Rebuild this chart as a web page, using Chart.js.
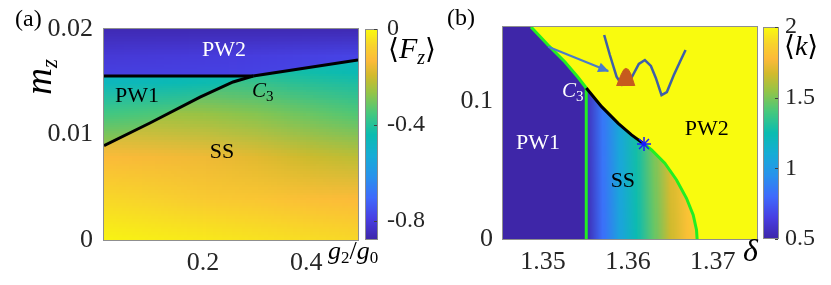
<!DOCTYPE html>
<html>
<head>
<meta charset="utf-8">
<script src="https://cdn.jsdelivr.net/npm/chart.js@4.4.1/dist/chart.umd.min.js"></script>
<style>
    html, body { margin: 0; padding: 0; background: #fff; }
    #wrap { position: relative; width: 831px; height: 285px; overflow: hidden; }
    #wrap canvas { position: absolute; top: 0; }
    #chartA { left: 0; }
    #chartB { left: 415px; }
</style>
</head>
<body>
<div id="wrap">
    <canvas id="chartA" width="440" height="285"></canvas>
    <canvas id="chartB" width="416" height="285"></canvas>
</div>
<script>
// ---------- panel (a): <F_z> vs g2/g0 and m_z ----------
var aXTicks = [0.2, 0.4];
var aXLabels = ['0.2', '0.4'];
var aYTicks = [0, 0.01, 0.02];
var aYLabels = ['0', '0.01', '0.02'];
var aCbTicks = [-0.8, -0.4, 0];
var aCbLabels = ['-0.8', '-0.4', '0'];
var aCbMin = -0.88;

// SS field (rows bottom -> top)
var aSsG = [0, 0.1, 0.2, 0.3, 0.4, 0.5];
var aSsMz = [0, 0.004, 0.008, 0.012, 0.016, 0.02];
var aSsFz = [
    [-0.01, -0.02, -0.03, -0.04, -0.05, -0.06],
    [-0.06, -0.07, -0.09, -0.10, -0.12, -0.13],
    [-0.13, -0.14, -0.15, -0.17, -0.20, -0.22],
    [-0.24, -0.25, -0.26, -0.28, -0.31, -0.34],
    [-0.38, -0.39, -0.40, -0.41, -0.43, -0.45],
    [-0.48, -0.48, -0.49, -0.50, -0.51, -0.52],
];
// PW1 field
var aPw1G = [0, 0.15, 0.3];
var aPw1Mz = [0.009, 0.012, 0.015, 0.018];
var aPw1Fz = [
    [-0.26, -0.25, -0.24],
    [-0.36, -0.34, -0.32],
    [-0.47, -0.45, -0.43],
    [-0.50, -0.50, -0.50],
];
// PW2 field
var aPw2G = [0, 0.25, 0.5];
var aPw2Mz = [0.015, 0.0175, 0.02];
var aPw2Fz = [
    [-0.78, -0.78, -0.77],
    [-0.81, -0.80, -0.78],
    [-0.86, -0.86, -0.86],
];
// phase boundaries
var aTopG = [0.008, 0.297];
var aTopMz = [0.01555, 0.01555];
var aDiagG = [0.008, 0.097, 0.194, 0.258, 0.297];
var aDiagMz = [0.00895, 0.01109, 0.01355, 0.01498, 0.01555];
var aRightG = [0.297, 0.5];
var aRightMz = [0.01555, 0.01706];

var aLabels = [
    { text: 'PW2', x: 0.2404, y: 0.01801, color: '#ffffff' },
    { text: 'PW1', x: 0.0719, y: 0.01365, color: '#000000' },
    { text: 'SS', x: 0.2366, y: 0.00834, color: '#000000' },
];
var aC3 = { x: 0.2947, y: 0.01355 };

// ---------- panel (b): <k> vs delta and m_z ----------
var bXTicks = [1.35, 1.36, 1.37];
var bXLabels = ['1.35', '1.36', '1.37'];
var bYTicks = [0, 0.1];
var bYLabels = ['0', '0.1'];
var bCbTicks = [0.5, 1, 1.5, 2];
var bCbLabels = ['0.5', '1', '1.5', '2'];

var bPw1K = 0.5;
var bPw2K = 2;
var bSsD = [1.355, 1.357, 1.359, 1.361, 1.363, 1.365, 1.367, 1.369];
var bSsMz = [0, 0.06, 0.12];
var bSsK = [
    [0.52, 0.82, 1.05, 1.24, 1.45, 1.66, 1.80, 1.90],
    [0.54, 0.84, 1.07, 1.27, 1.49, 1.70, 1.83, 1.90],
    [0.56, 0.86, 1.09, 1.30, 1.52, 1.72, 1.85, 1.92],
];

var bUpperD = [1.3486, 1.3506, 1.3526, 1.3541, 1.3551];
var bUpperMz = [0.1536, 0.1406, 0.1283, 0.1174, 0.1094];
var bVertD = [1.3551, 1.3551];
var bVertMz = [0, 0.1094];
var bBlackD = [1.3551, 1.35691, 1.35886, 1.36043, 1.3619];
var bBlackMz = [0.1094, 0.0959, 0.0838, 0.0754, 0.0688];
var bLowerD = [1.3619, 1.36279, 1.36435, 1.36573, 1.3669, 1.36769, 1.36808, 1.36815];
var bLowerMz = [0.0688, 0.0645, 0.0549, 0.0428, 0.0295, 0.0174, 0.0065, 0];
var bStarD = [1.3619];
var bStarMz = [0.0688];

// inset: double-well sketch, particle bump and arrow
var bWellD = [1.35721, 1.35788, 1.35867, 1.35929, 1.36000, 1.36059, 1.36129, 1.36200,
    1.36271, 1.36329, 1.36396, 1.36459, 1.36541, 1.36612, 1.36679];
var bWellMz = [0.1478, 0.1333, 0.1176, 0.1116, 0.1123, 0.1188, 0.1268, 0.1297,
    0.1254, 0.1167, 0.1043, 0.1065, 0.1188, 0.1283, 0.1370];
var bBumpD = [1.35867, 1.35894, 1.35924, 1.35953, 1.35976, 1.36006, 1.36035, 1.36059, 1.36082];
var bBumpMz = [0.1109, 0.1152, 0.1196, 0.1228, 0.1236, 0.1228, 0.1196, 0.1152, 0.1109];
var bBumpBase = 0.1109;
var bArrowD = [1.35062, 1.35768];
var bArrowMz = [0.1393, 0.1217];

var bLabels = [
    { text: 'PW1', x: 1.34941, y: 0.0696, color: '#ffffff' },
    { text: 'SS', x: 1.35941, y: 0.0420, color: '#000000' },
    { text: 'PW2', x: 1.36929, y: 0.0797, color: '#000000' },
];
var bC3 = { x: 1.35224, y: 0.1029 };

// ---------- helpers ----------
var SERIF = '"Liberation Serif", "DejaVu Serif", serif';
var parulaStops = [
    [0.00, 62, 38, 168],
    [0.10, 72, 62, 226],
    [0.20, 63, 106, 252],
    [0.30, 40, 146, 236],
    [0.40, 22, 172, 214],
    [0.50, 10, 188, 176],
    [0.60, 70, 200, 125],
    [0.70, 150, 196, 70],
    [0.78, 210, 186, 44],
    [0.85, 252, 186, 58],
    [0.92, 248, 210, 45],
    [1.00, 249, 251, 14],
];

function parula(t) {
    t = Math.max(0, Math.min(1, t));
    for (var i = 1; i < parulaStops.length; i++) {
        var a = parulaStops[i - 1], b = parulaStops[i];
        if (t <= b[0]) {
            var f = (t - a[0]) / (b[0] - a[0]);
            return [0, 1, 2].map(function (k) {
                return Math.round(a[k + 1] + f * (b[k + 1] - a[k + 1]));
            });
        }
    }
    return parulaStops[parulaStops.length - 1].slice(1);
}
function parulaCss(t) {
    var c = parula(t);
    return 'rgb(' + c[0] + ',' + c[1] + ',' + c[2] + ')';
}

function zip(xs, ys) {
    return xs.map(function (x, i) { return [x, ys[i]]; });
}
function pts(xs, ys) {
    return xs.map(function (x, i) { return { x: x, y: ys[i] }; });
}

function clipTo(chart, poly) {
    var ctx = chart.ctx, a = chart.chartArea;
    var xs = chart.scales.x, ys = chart.scales.y;
    ctx.beginPath();
    ctx.rect(a.left, a.top, a.right - a.left, a.bottom - a.top);
    ctx.clip();
    if (poly) {
        ctx.beginPath();
        poly.forEach(function (p, i) {
            var px = xs.getPixelForValue(p[0]), py = ys.getPixelForValue(p[1]);
            if (i === 0) ctx.moveTo(px, py); else ctx.lineTo(px, py);
        });
        ctx.closePath();
        ctx.clip();
    }
}

// smooth (shaded) heat map of a small grid, drawn through the chart scales
function drawField(chart, gx, gy, vals, vmin, vmax, poly) {
    var ctx = chart.ctx, xs = chart.scales.x, ys = chart.scales.y;
    var nx = gx.length, ny = gy.length;
    var off = document.createElement('canvas');
    off.width = nx;
    off.height = ny;
    var octx = off.getContext('2d');
    var img = octx.createImageData(nx, ny);
    for (var j = 0; j < ny; j++) {
        for (var i = 0; i < nx; i++) {
            var c = parula((vals[j][i] - vmin) / (vmax - vmin));
            var k = ((ny - 1 - j) * nx + i) * 4;
            img.data[k] = c[0];
            img.data[k + 1] = c[1];
            img.data[k + 2] = c[2];
            img.data[k + 3] = 255;
        }
    }
    octx.putImageData(img, 0, 0);
    var hx = (gx[1] - gx[0]) / 2, hy = (gy[1] - gy[0]) / 2;
    var left = xs.getPixelForValue(gx[0] - hx);
    var right = xs.getPixelForValue(gx[nx - 1] + hx);
    var top = ys.getPixelForValue(gy[ny - 1] + hy);
    var bottom = ys.getPixelForValue(gy[0] - hy);
    ctx.save();
    clipTo(chart, poly);
    ctx.imageSmoothingEnabled = true;
    ctx.drawImage(off, left, top, right - left, bottom - top);
    ctx.restore();
}

function drawFlat(chart, value, vmin, vmax, poly) {
    var ctx = chart.ctx, a = chart.chartArea;
    ctx.save();
    clipTo(chart, poly);
    ctx.fillStyle = parulaCss((value - vmin) / (vmax - vmin));
    ctx.fillRect(a.left - 1, a.top - 1, a.right - a.left + 2, a.bottom - a.top + 2);
    ctx.restore();
}

function P(t, s, it, dy) {
    return { t: t, s: s, it: !!it, dy: dy || 0 };
}
function drawMath(ctx, parts, x, y, color, align) {
    ctx.save();
    ctx.fillStyle = color;
    ctx.textBaseline = 'alphabetic';
    ctx.textAlign = 'left';
    var w = 0;
    parts.forEach(function (p) {
        ctx.font = (p.it ? 'italic ' : '') + p.s + 'px ' + SERIF;
        w += ctx.measureText(p.t).width;
    });
    var cx = align === 'center' ? x - w / 2 : x;
    parts.forEach(function (p) {
        ctx.font = (p.it ? 'italic ' : '') + p.s + 'px ' + SERIF;
        ctx.fillText(p.t, cx, y + p.dy);
        cx += ctx.measureText(p.t).width;
    });
    ctx.restore();
}

function drawColorbar(chart, gap, width) {
    var ctx = chart.ctx, a = chart.chartArea, cb = chart.scales.cb;
    var x0 = a.right + gap;
    ctx.save();
    for (var py = Math.floor(a.top); py < a.bottom; py++) {
        var v = cb.getValueForPixel(py + 0.5);
        ctx.fillStyle = parulaCss((v - cb.min) / (cb.max - cb.min));
        ctx.fillRect(x0, py, width, 1);
    }
    ctx.strokeStyle = '#8c8c8c';
    ctx.lineWidth = 1;
    ctx.strokeRect(x0 + 0.5, a.top + 0.5, width - 1, a.bottom - a.top - 1);
    ctx.strokeStyle = '#404040';
    cb.ticks.forEach(function (t) {
        var y = Math.round(cb.getPixelForValue(t.value)) + 0.5;
        ctx.beginPath();
        ctx.moveTo(x0 + width - 1, y);
        ctx.lineTo(x0 + width - 4, y);
        ctx.stroke();
    });
    ctx.restore();
}

function drawFrame(chart) {
    var ctx = chart.ctx, a = chart.chartArea;
    ctx.save();
    ctx.strokeStyle = '#8f8f8f';
    ctx.lineWidth = 1;
    ctx.strokeRect(a.left - 0.5, a.top - 0.5, a.right - a.left + 1, a.bottom - a.top + 1);
    ctx.restore();
}

function drawRegionLabels(chart, labels) {
    var ctx = chart.ctx, xs = chart.scales.x, ys = chart.scales.y;
    ctx.save();
    ctx.font = '22px ' + SERIF;
    ctx.textAlign = 'center';
    ctx.textBaseline = 'middle';
    labels.forEach(function (l) {
        ctx.fillStyle = l.color;
        ctx.fillText(l.text, xs.getPixelForValue(l.x), ys.getPixelForValue(l.y));
    });
    ctx.restore();
}

function lineSet(xs, ys, color, width, order) {
    return {
        type: 'line',
        data: pts(xs, ys),
        borderColor: color,
        borderWidth: width,
        pointRadius: 0,
        fill: false,
        tension: 0,
        order: order,
    };
}

// fixed-size axis box, without the extra edge padding chart.js reserves for end labels
function fixSize(w, h) {
    return function (s) {
        if (w) s.width = w;
        if (h) s.height = h;
        s.paddingTop = 0;
        s.paddingBottom = 0;
        s.paddingLeft = 0;
        s.paddingRight = 0;
    };
}

function axisScale(min, max, tickVals, tickLabels, extra) {
    var s = {
        type: 'linear',
        min: min,
        max: max,
        afterBuildTicks: function (scale) {
            scale.ticks = tickVals.map(function (v) { return { value: v }; });
        },
        ticks: {
            autoSkip: false,
            maxRotation: 0,
            minRotation: 0,
            color: '#262626',
            font: { family: SERIF, size: 26 },
            callback: function (value) {
                var i = tickVals.indexOf(value);
                return i >= 0 ? tickLabels[i] : '';
            },
        },
        grid: { display: false, drawTicks: false },
        border: { display: false },
    };
    for (var k in extra) {
        if (k === 'ticks') Object.assign(s.ticks, extra.ticks);
        else s[k] = extra[k];
    }
    return s;
}

// nudge layout padding until the plot box sits where the figure has it
function pinArea(chart, t) {
    var p = chart.config.options.layout.padding;
    for (var n = 0; n < 5; n++) {
        var a = chart.chartArea;
        var dl = t.left - a.left, dt = t.top - a.top;
        var dr = a.right - t.right, db = a.bottom - t.bottom;
        if (Math.abs(dl) + Math.abs(dt) + Math.abs(dr) + Math.abs(db) < 0.5) break;
        p.left += dl;
        p.top += dt;
        p.right += dr;
        p.bottom += db;
        chart.update();
    }
}

Chart.defaults.font.family = SERIF;

// ---------- chart (a) ----------
var plotA = {
    id: 'plotA',
    beforeDatasetsDraw: function (chart) {
        var x = chart.scales.x, y = chart.scales.y;
        drawField(chart, aSsG, aSsMz, aSsFz, aCbMin, 0, null);
        drawField(chart, aPw1G, aPw1Mz, aPw1Fz, aCbMin, 0,
            zip(aTopG, aTopMz).concat(zip(aDiagG, aDiagMz).reverse()));
        drawField(chart, aPw2G, aPw2Mz, aPw2Fz, aCbMin, 0,
            zip(aTopG, aTopMz).concat(zip(aRightG, aRightMz).slice(1),
                [[x.max, y.max], [x.min, y.max]]));
    },
    afterDraw: function (chart) {
        var ctx = chart.ctx, a = chart.chartArea;
        var xs = chart.scales.x, ys = chart.scales.y;
        drawFrame(chart);
        drawColorbar(chart, 7, 13);
        drawRegionLabels(chart, aLabels);
        drawMath(ctx, [P('C', 21, true), P('3', 15, false, 4)],
            xs.getPixelForValue(aC3.x), ys.getPixelForValue(aC3.y), '#000', 'left');
        drawMath(ctx, [P('(a)', 24)], 15, 26, '#000', 'left');
        drawMath(ctx, [P('\u27E8', 28), P('F', 30, true), P('z', 20, true, 6), P('\u27E9', 28)],
            a.right + 30, 58, '#000', 'left');
        drawMath(ctx, [P('g', 26, true), P('2', 17, false, 4), P('/', 26), P('g', 26, true), P('0', 17, false, 4)],
            a.right - 30, 259, '#000', 'left');
        ctx.save();
        ctx.translate(51, 77);
        ctx.rotate(-Math.PI / 2);
        drawMath(ctx, [P('m', 37, true), P('z', 23, true, 6)], 0, 0, '#000', 'center');
        ctx.restore();
    },
};

var chartA = new Chart(document.getElementById('chartA'), {
    type: 'line',
    data: {
        datasets: [
            lineSet(aTopG, aTopMz, '#000000', 3, 0),
            lineSet(aDiagG, aDiagMz, '#000000', 3, 1),
            lineSet(aRightG, aRightMz, '#000000', 3, 2),
        ],
    },
    options: {
        responsive: false,
        animation: false,
        events: [],
        layout: { padding: { left: 44, top: 29, right: 0, bottom: 0 } },
        plugins: { legend: { display: false }, tooltip: { enabled: false } },
        scales: {
            x: axisScale(0.008, 0.5, aXTicks, aXLabels, {
                afterFit: fixSize(0, 45),
                ticks: { padding: 8 },
            }),
            y: axisScale(0, 0.02, aYTicks, aYLabels, {
                afterFit: fixSize(60, 0),
                ticks: { padding: 11 },
            }),
            cb: axisScale(aCbMin, 0, aCbTicks, aCbLabels, {
                axis: 'y',
                position: 'right',
                afterFit: fixSize(82, 0),
                ticks: { padding: 29, font: { family: SERIF, size: 24 } },
            }),
        },
    },
    plugins: [plotA],
});
pinArea(chartA, { left: 104, top: 29, right: 358, bottom: 240 });

// ---------- chart (b) ----------
var plotB = {
    id: 'plotB',
    beforeDatasetsDraw: function (chart) {
        var x = chart.scales.x, y = chart.scales.y;
        drawFlat(chart, bPw2K, bPw1K, bPw2K, null);
        drawFlat(chart, bPw1K, bPw1K, bPw2K,
            [[x.min, y.max]].concat(zip(bUpperD, bUpperMz), [[bVertD[0], 0], [x.min, 0]]));
        drawField(chart, bSsD, bSsMz, bSsK, bPw1K, bPw2K,
            zip(bVertD, bVertMz).concat(zip(bBlackD, bBlackMz).slice(1), zip(bLowerD, bLowerMz).slice(1)));
    },
    afterDatasetsDraw: function (chart) {
        // arrow head at the end of the arrow line
        var ctx = chart.ctx;
        var meta = chart.getDatasetMeta(3);
        var p0 = meta.data[0], p1 = meta.data[1];
        var ang = Math.atan2(p1.y - p0.y, p1.x - p0.x);
        ctx.save();
        ctx.fillStyle = '#4a7bcb';
        ctx.translate(p1.x, p1.y);
        ctx.rotate(ang);
        ctx.beginPath();
        ctx.moveTo(1, 0);
        ctx.lineTo(-10, -5);
        ctx.lineTo(-10, 5);
        ctx.closePath();
        ctx.fill();
        ctx.restore();
    },
    afterDraw: function (chart) {
        var ctx = chart.ctx, a = chart.chartArea;
        var xs = chart.scales.x, ys = chart.scales.y;
        drawFrame(chart);
        drawColorbar(chart, 6, 16);
        drawRegionLabels(chart, bLabels);
        drawMath(ctx, [P('C', 21, true), P('3', 15, false, 4)],
            xs.getPixelForValue(bC3.x), ys.getPixelForValue(bC3.y), '#ffffff', 'left');
        drawMath(ctx, [P('(b)', 24)], 32, 25, '#000', 'left');
        drawMath(ctx, [P('\u27E8', 28), P('k', 28, true), P('\u27E9', 28)],
            a.right + 27, 55, '#000', 'left');
        drawMath(ctx, [P('\u03B4', 32, true)], a.right - 14, 261, '#000', 'left');
        ctx.save();
        ctx.translate(474, 138);
        ctx.rotate(-Math.PI / 2);
        drawMath(ctx, [P('m', 37, true), P('z', 23, true, 6)], 0, 0, '#000', 'center');
        ctx.restore();
    },
};

var chartB = new Chart(document.getElementById('chartB'), {
    type: 'line',
    data: {
        datasets: [
            {
                type: 'line',
                data: pts(bStarD, bStarMz),
                showLine: false,
                pointStyle: 'star',
                pointRadius: 7,
                borderColor: '#1a1aff',
                backgroundColor: 'rgba(0,0,0,0)',
                borderWidth: 1.5,
                order: 0,
            },
            {
                type: 'line',
                data: pts(bBumpD, bBumpMz),
                borderColor: '#c65a1e',
                backgroundColor: '#c65a1e',
                borderWidth: 1,
                pointRadius: 0,
                fill: { value: bBumpBase },
                order: 1,
            },
            lineSet(bWellD, bWellMz, '#3f5fa8', 2.5, 2),
            lineSet(bArrowD, bArrowMz, '#4a7bcb', 2, 3),
            lineSet(bBlackD, bBlackMz, '#000000', 3, 4),
            lineSet(bUpperD, bUpperMz, '#22ee22', 3, 5),
            lineSet(bVertD, bVertMz, '#22ee22', 3, 6),
            lineSet(bLowerD, bLowerMz, '#22ee22', 3, 7),
        ],
    },
    options: {
        responsive: false,
        animation: false,
        events: [],
        layout: { padding: { left: 28, top: 27, right: 0, bottom: 0 } },
        plugins: { legend: { display: false }, tooltip: { enabled: false } },
        scales: {
            x: axisScale(1.3453, 1.3752, bXTicks, bXLabels, {
                afterFit: fixSize(0, 46),
                ticks: { padding: 8 },
            }),
            y: axisScale(0, 0.1536, bYTicks, bYLabels, {
                afterFit: fixSize(60, 0),
                ticks: { padding: 10 },
            }),
            cb: axisScale(bPw1K, bPw2K, bCbTicks, bCbLabels, {
                axis: 'y',
                position: 'right',
                afterFit: fixSize(74, 0),
                ticks: { padding: 28, font: { family: SERIF, size: 24 } },
            }),
        },
    },
    plugins: [plotB],
});
pinArea(chartB, { left: 88, top: 27, right: 342, bottom: 239 });
</script>
</body>
</html>
